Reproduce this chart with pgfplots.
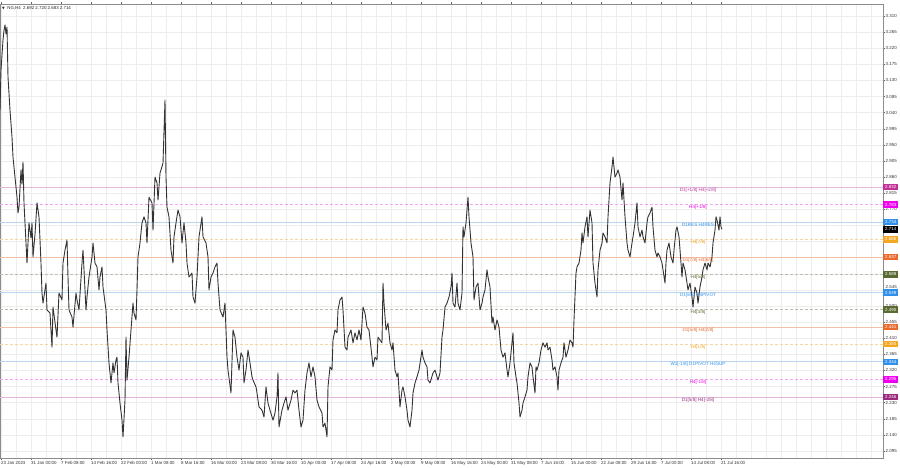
\documentclass[border=0pt]{standalone}
\usepackage{pgfplots}
\pgfplotsset{compat=1.18}
\usepackage{fontspec}
\setmainfont{Liberation Sans}
\newfontfamily\symfont{DejaVu Sans}

\definecolor{gridc}{HTML}{EDEDED}
\definecolor{vred}{HTML}{C2309A}
\definecolor{vredl}{HTML}{E3B5D8}
\definecolor{vdark}{HTML}{9A2A7E}
\definecolor{mag}{HTML}{F000F0}
\definecolor{magl}{HTML}{F2A5F2}
\definecolor{dblue}{HTML}{2F8FEA}
\definecolor{dbluel}{HTML}{B8D6F0}
\definecolor{orng}{HTML}{F5A623}
\definecolor{orngl}{HTML}{F6D6A0}
\definecolor{ored}{HTML}{EA6A2E}
\definecolor{oredl}{HTML}{F2C0A8}
\definecolor{olv}{HTML}{5A6B30}
\definecolor{olvl}{HTML}{BCBFAE}

\newcommand{\tinyfont}{\fontsize{4.4}{5}\selectfont}
\newcommand{\lvlfont}{\fontsize{4.6}{5}\selectfont}

\begin{document}
\begin{tikzpicture}
\begin{axis}[
  scale only axis, width=883pt, height=454pt,
  xmin=0, xmax=883, ymin=2.0754, ymax=3.3435,
  clip=false,
  axis line style={draw=black!45, line width=0.6pt},
  tick align=outside,
  major tick length=2pt, minor tick length=0pt,
  tick style={black!60, line width=0.4pt},
  xtick={1,31,...,721},
  xticklabels={23 Jan 2023, 31 Jan 00:00, 7 Feb 08:00, 14 Feb 16:00, 22 Feb 00:00,
    1 Mar 08:00, 8 Mar 16:00, 16 Mar 00:00, 23 Mar 08:00, 30 Mar 16:00,
    10 Apr 00:00, 17 Apr 08:00, 24 Apr 16:00, 2 May 00:00, 9 May 08:00,
    16 May 16:00, 24 May 00:00, 31 May 08:00, 7 Jun 16:00, 15 Jun 00:00,
    22 Jun 08:00, 29 Jun 16:00, 7 Jul 00:00, 14 Jul 08:00, 21 Jul 16:00},
  xticklabel style={anchor=north west, inner sep=0pt, yshift=-1pt, font=\tinyfont, text=black!80},
  minor xtick={1,16,...,871},
  xmajorgrids=false, xminorgrids=true,
  ytick={2.095,2.140,2.185,2.230,2.275,2.320,2.365,2.410,2.455,2.500,2.590,2.635,
    2.680,2.725,2.770,2.815,2.860,2.905,2.950,2.995,3.040,3.085,3.130,3.175,3.220,3.265,3.310},
  yticklabels={2.095,2.140,2.185,2.230,2.275,2.320,2.365,2.410,2.455,2.500,,,
    ,,2.770,2.815,2.860,2.905,2.950,2.995,3.040,3.085,3.130,3.175,3.220,3.265,3.310},
  extra y ticks={2.545},
  extra y tick labels={2.545},
  extra y tick style={yticklabel style={yshift=2.4pt}},
  ymajorgrids=true,
  yticklabel pos=right,
  yticklabel style={anchor=west, inner sep=0.5pt, font=\tinyfont, text=black!80},
  grid style={gridc, line width=0.5pt},
]
% level lines
\addplot[vredl, line width=0.8pt] coordinates {(0,2.832) (883,2.832)};
\addplot[magl, line width=0.7pt, dash pattern=on 3pt off 2pt] coordinates {(0,2.783) (883,2.783)};
\addplot[dbluel, line width=0.8pt] coordinates {(0,2.734) (883,2.734)};
\addplot[orngl, line width=0.7pt, dash pattern=on 3pt off 2pt] coordinates {(0,2.686) (883,2.686)};
\addplot[oredl, line width=0.8pt] coordinates {(0,2.637) (883,2.637)};
\addplot[olvl, line width=0.7pt, dash pattern=on 3pt off 2pt] coordinates {(0,2.588) (883,2.588)};
\addplot[dbluel, line width=0.8pt] coordinates {(0,2.539) (883,2.539)};
\addplot[olvl, line width=0.7pt, dash pattern=on 3pt off 2pt] coordinates {(0,2.490) (883,2.490)};
\addplot[oredl, line width=0.8pt] coordinates {(0,2.441) (883,2.441)};
\addplot[orngl, line width=0.7pt, dash pattern=on 3pt off 2pt] coordinates {(0,2.393) (883,2.393)};
\addplot[dbluel, line width=0.8pt] coordinates {(0,2.344) (883,2.344)};
\addplot[magl, line width=0.7pt, dash pattern=on 3pt off 2pt] coordinates {(0,2.295) (883,2.295)};
\addplot[vredl, line width=0.8pt] coordinates {(0,2.246) (883,2.246)};

% price path (H4 candles, traced)
\addplot[black!80, line width=0.9pt, line join=round] coordinates {
(0,3.047) (1,3.159) (3,3.243) (4,3.270) (5,3.285) (6,3.260) (7,3.279) (8,3.140)
(10,3.047) (12,2.972) (13,2.916) (15,2.860) (17,2.804) (18,2.760) (19,2.776) (21,2.880)
(22,2.840) (23,2.902) (24,2.788) (26,2.676) (27,2.620) (29,2.732) (31,2.690) (32,2.732)
(33,2.637) (35,2.700) (37,2.788) (39,2.749) (41,2.620) (42,2.536) (43,2.508) (46,2.564)
(47,2.489) (50,2.480) (52,2.385) (53,2.497) (56,2.433) (57,2.413) (59,2.536) (62,2.517)
(63,2.620) (65,2.656) (67,2.684) (68,2.581) (69,2.489) (72,2.469) (73,2.441) (76,2.536)
(77,2.517) (79,2.489) (82,2.620) (83,2.656) (84,2.601) (86,2.489) (87,2.525) (89,2.581)
(92,2.637) (93,2.676) (95,2.620) (97,2.609) (99,2.545) (100,2.581) (102,2.609) (103,2.553)
(106,2.489) (107,2.433) (109,2.341) (111,2.285) (113,2.341) (114,2.313) (116,2.349) (117,2.357)
(118,2.285) (120,2.229) (122,2.181) (123,2.134) (125,2.237) (126,2.413) (127,2.293) (129,2.357)
(131,2.433) (133,2.508) (134,2.480) (136,2.461) (137,2.545) (138,2.637) (140,2.676) (142,2.732)
(144,2.749) (146,2.732) (147,2.676) (149,2.804) (152,2.788) (153,2.712) (155,2.860) (157,2.844)
(158,2.796) (160,2.871) (163,2.899) (165,3.075) (166,2.860) (167,2.776) (169,2.749) (171,2.656)
(173,2.620) (174,2.693) (176,2.732) (178,2.768) (180,2.749) (182,2.676) (184,2.732) (186,2.676)
(187,2.620) (189,2.581) (192,2.592) (193,2.525) (195,2.508) (197,2.581) (199,2.693) (202,2.749)
(203,2.693) (206,2.676) (208,2.637) (209,2.545) (211,2.581) (213,2.592) (215,2.609) (217,2.620)
(218,2.564) (220,2.489) (223,2.469) (225,2.508) (227,2.357) (228,2.321) (231,2.257) (233,2.433)
(235,2.413) (237,2.357) (239,2.321) (241,2.369) (243,2.357) (244,2.285) (246,2.321) (248,2.377)
(250,2.341) (252,2.302) (253,2.293) (256,2.274) (257,2.257) (259,2.218) (262,2.209) (264,2.190)
(266,2.274) (268,2.229) (270,2.209) (273,2.181) (275,2.201) (277,2.246) (278,2.313) (279,2.162)
(282,2.209) (284,2.229) (286,2.246) (288,2.209) (291,2.237) (293,2.265) (295,2.257) (297,2.265)
(299,2.209) (301,2.162) (303,2.181) (305,2.265) (307,2.313) (309,2.341) (311,2.302) (313,2.330)
(315,2.302) (317,2.237) (319,2.218) (322,2.201) (323,2.162) (325,2.173) (327,2.134) (328,2.274)
(330,2.330) (332,2.321) (333,2.405) (335,2.433) (337,2.425) (338,2.489) (340,2.517) (342,2.525)
(343,2.489) (345,2.385) (347,2.377) (348,2.413) (351,2.433) (353,2.397) (355,2.425) (357,2.405)
(359,2.433) (361,2.405) (363,2.497) (365,2.480) (367,2.441) (369,2.433) (372,2.357) (373,2.330)
(375,2.357) (377,2.349) (378,2.413) (380,2.405) (382,2.397) (383,2.564) (384,2.508) (386,2.433)
(388,2.452) (390,2.397) (392,2.377) (393,2.397) (395,2.321) (397,2.302) (398,2.313) (400,2.218)
(402,2.265) (403,2.274) (405,2.246) (407,2.209) (408,2.181) (410,2.162) (412,2.209) (413,2.257)
(415,2.285) (417,2.302) (419,2.321) (422,2.377) (423,2.357) (425,2.341) (427,2.330) (428,2.293)
(430,2.285) (433,2.313) (435,2.321) (437,2.302) (438,2.293) (440,2.313) (442,2.413) (443,2.433)
(445,2.497) (447,2.508) (449,2.525) (451,2.553) (452,2.592) (453,2.508) (455,2.497) (457,2.564)
(458,2.508) (460,2.489) (462,2.536) (463,2.721) (464,2.693) (466,2.732) (467,2.768) (468,2.804)
(469,2.749) (471,2.676) (473,2.637) (474,2.517) (476,2.553) (478,2.564) (480,2.489) (482,2.508)
(483,2.525) (485,2.545) (487,2.601) (488,2.581) (490,2.553) (492,2.452) (493,2.469) (495,2.433)
(497,2.461) (499,2.441) (501,2.377) (503,2.357) (505,2.369) (507,2.321) (508,2.302) (510,2.341)
(512,2.397) (513,2.425) (514,2.341) (516,2.302) (517,2.285) (519,2.229) (520,2.190) (522,2.209)
(523,2.229) (525,2.246) (527,2.265) (528,2.302) (530,2.341) (532,2.330) (533,2.302) (535,2.257)
(536,2.330) (537,2.321) (539,2.341) (541,2.377) (543,2.397) (545,2.385) (547,2.397) (548,2.377)
(550,2.385) (552,2.349) (553,2.321) (555,2.330) (557,2.302) (558,2.265) (559,2.321) (561,2.341)
(563,2.357) (564,2.397) (566,2.357) (568,2.377) (570,2.405) (572,2.397) (573,2.385) (574,2.461)
(576,2.592) (577,2.609) (579,2.620) (581,2.656) (582,2.704) (583,2.676) (585,2.721) (587,2.749)
(588,2.693) (590,2.768) (592,2.732) (593,2.620) (595,2.564) (597,2.525) (598,2.601) (600,2.656)
(602,2.676) (603,2.704) (605,2.693) (607,2.676) (608,2.749) (610,2.844) (612,2.888) (613,2.916)
(615,2.860) (617,2.871) (618,2.880) (620,2.860) (622,2.796) (623,2.844) (625,2.749) (627,2.676)
(628,2.656) (630,2.637) (632,2.676) (633,2.693) (635,2.732) (637,2.788) (638,2.721) (640,2.693)
(642,2.712) (643,2.693) (645,2.676) (647,2.732) (648,2.749) (650,2.760) (652,2.776) (653,2.721)
(655,2.656) (657,2.637) (658,2.648) (660,2.637) (662,2.620) (663,2.601) (665,2.564) (666,2.620)
(667,2.656) (669,2.676) (671,2.637) (673,2.620) (674,2.656) (676,2.712) (677,2.721) (679,2.693)
(681,2.620) (682,2.581) (683,2.620) (685,2.601) (687,2.564) (688,2.545) (690,2.564) (692,2.525)
(693,2.497) (695,2.553) (697,2.536) (698,2.508) (700,2.553) (702,2.581) (703,2.601) (705,2.620)
(707,2.601) (708,2.620) (710,2.609) (712,2.637) (713,2.676) (715,2.712) (716,2.749) (717,2.740)
(719,2.712) (720,2.749) (721,2.721) (722,2.714)
};

% level captions
\begin{scope}[every node/.style={anchor=north, inner sep=0.6pt, font=\lvlfont}]
\node[text=vred]  at (axis cs:698,2.832) {D1[+1/8] H4[+2/8]};
\node[text=mag]   at (axis cs:698,2.783) {H4[+1/8]};
\node[text=dblue] at (axis cs:698,2.734) {D1RES H4RES};
\node[text=orng]  at (axis cs:698,2.686) {H4[7/8]};
\node[text=ored]  at (axis cs:698,2.637) {D1[7/8] H4[6/8]};
\node[text=olv]   at (axis cs:698,2.588) {H4[5/8]};
\node[text=dblue] at (axis cs:698,2.539) {D1[6/8] H4PIVOT};
\node[text=olv]   at (axis cs:698,2.490) {H4[3/8]};
\node[text=ored]  at (axis cs:698,2.441) {D1[5/8] H4[2/8]};
\node[text=orng]  at (axis cs:698,2.393) {H4[1/8]};
\node[text=dblue] at (axis cs:698,2.344) {W1[-1/8] D1PIVOT H4SUP};
\node[text=mag]   at (axis cs:698,2.295) {H4[-1/8]};
\node[text=vdark] at (axis cs:698,2.246) {D1[5/8] H4[-2/8]};
\end{scope}

\coordinate (b1) at (axis cs:883,2.832);
\coordinate (b2) at (axis cs:883,2.783);
\coordinate (b3) at (axis cs:883,2.734);
\coordinate (b0) at (axis cs:883,2.714);
\coordinate (b4) at (axis cs:883,2.686);
\coordinate (b5) at (axis cs:883,2.637);
\coordinate (b6) at (axis cs:883,2.588);
\coordinate (b7) at (axis cs:883,2.539);
\coordinate (b8) at (axis cs:883,2.490);
\coordinate (b9) at (axis cs:883,2.441);
\coordinate (b10) at (axis cs:883,2.393);
\coordinate (b11) at (axis cs:883,2.344);
\coordinate (b12) at (axis cs:883,2.295);
\coordinate (b13) at (axis cs:883,2.246);
\end{axis}

% price boxes on the right scale
\begin{scope}[every node/.style={anchor=west, minimum width=15pt, minimum height=6.4pt,
    inner sep=0pt, text=white, font=\tinyfont}]
\node[fill=vred]  at (b1) {2.832};
\node[fill=mag]   at (b2) {2.783};
\node[fill=dblue] at (b3) {2.734};
\node[fill=black] at (b0) {2.714};
\node[fill=orng]  at (b4) {2.686};
\node[fill=ored]  at (b5) {2.637};
\node[fill=olv]   at (b6) {2.588};
\node[fill=dblue] at ([yshift=-0.6pt]b7) {2.539};
\node[fill=olv]   at (b8) {2.490};
\node[fill=ored]  at (b9) {2.441};
\node[fill=orng]  at (b10) {2.393};
\node[fill=dblue] at (b11) {2.344};
\node[fill=mag]   at (b12) {2.295};
\node[fill=vdark] at (b13) {2.246};
\end{scope}

\node[anchor=west, inner sep=0pt, font=\tinyfont, text=black!85]
  at ([shift={(2pt,-4.5pt)}]current axis.north west)
  {{\symfont\fontsize{3.5}{4}\selectfont ▼}\ \ NG,H4\ \ 2.692 2.720 2.683 2.714};

\pgfresetboundingbox
\useasboundingbox ([yshift=-10pt]current axis.south west) rectangle ++(900pt,468pt);
\end{tikzpicture}
\end{document}
